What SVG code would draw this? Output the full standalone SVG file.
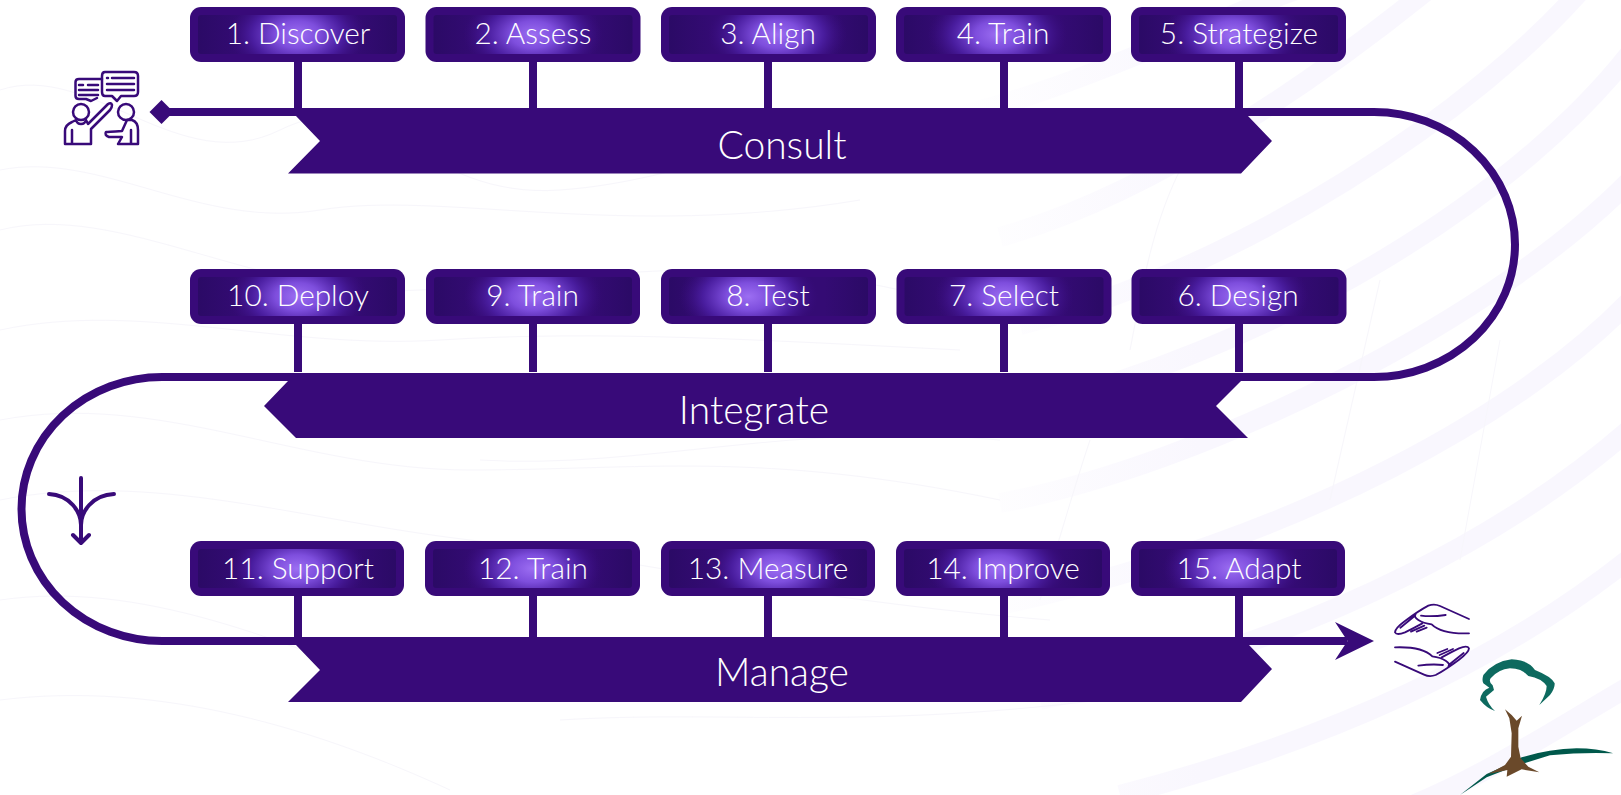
<svg xmlns="http://www.w3.org/2000/svg" width="1621" height="795" viewBox="0 0 1621 795">
<style>
text{font-family:"Lato","Open Sans","Liberation Sans",sans-serif;font-weight:300;fill:#fff;text-anchor:middle}
.l{font-size:29.800px}
.r{font-size:39px}
.o{fill:#380a79}
.b{fill:url(#base)}
.c{fill:none;stroke:#380a79;stroke-width:8}
.i{fill:none;stroke:#380a79;stroke-width:2.500;stroke-linecap:round;stroke-linejoin:round}
.h{fill:none;stroke:#380a79;stroke-width:5.500;stroke-linecap:round;stroke-linejoin:round}
.bg{fill:none;stroke:url(#band);stroke-width:20}
.bl{fill:none;stroke:#f7f6fb;stroke-width:1}
</style>
<defs>
<linearGradient id="band" gradientUnits="userSpaceOnUse" x1="950" y1="0" x2="1200" y2="0"><stop offset="0" stop-color="#f9f7fe" stop-opacity="0"/><stop offset="1" stop-color="#f9f7fe"/></linearGradient>
<linearGradient id="base"><stop offset="0" stop-color="#2b0a66"/><stop offset=".22" stop-color="#340b74"/><stop offset=".78" stop-color="#340b74"/><stop offset="1" stop-color="#2b0a66"/></linearGradient>
<radialGradient id="g0" cx=".5" cy=".5" r=".5" gradientTransform="translate(.5 .5) scale(.7 2.200) translate(-.5 -.5)"><stop offset="0" stop-color="#9c6ef2"/><stop offset=".32" stop-color="#8050e0" stop-opacity=".97"/><stop offset=".66" stop-color="#4d20a6" stop-opacity=".85"/><stop offset="1" stop-color="#3a0c80" stop-opacity="0"/></radialGradient>
<radialGradient id="gm" href="#g0" cx=".47" gradientTransform="translate(.47 .5) scale(.7 2.200) translate(-.47 -.5)"/>
<radialGradient id="gp" href="#g0" cx=".545" gradientTransform="translate(.545 .5) scale(.7 2.200) translate(-.545 -.5)"/>
<radialGradient id="gt" href="#g0" cx=".4" gradientTransform="translate(.4 .5) scale(.7 2.200) translate(-.4 -.5)"/>
<filter id="soft" x="-5%" y="-5%" width="110%" height="110%"><feGaussianBlur stdDeviation=".6"/></filter>
<g id="stem"><rect class="o" x="-4" y="0" width="8" height="50"/></g>
</defs>
<rect width="1621" height="795" fill="#fff"/>
<g id="background">
<path class="bg" d="M860 135C1060 110 1240 0 1330 -20"/>
<path class="bg" d="M1000 237C1158 193 1330 70 1440 -20"/>
<path class="bg" d="M1020 325C1240 270 1480 110 1590 -20"/>
<path class="bg" d="M1000 415C1280 350 1530 190 1640 40"/>
<path class="bg" d="M1000 503C1198 467 1500 320 1640 170"/>
<path class="bg" d="M1000 605C1300 540 1530 410 1640 290"/>
<path class="bg" d="M1040 700C1330 640 1530 520 1640 420"/>
<path class="bg" d="M1120 795C1370 730 1530 640 1640 550"/>
<path class="bg" d="M1400 810C1480 780 1570 720 1640 680"/>
<path class="bl" d="M0 90C90 60 180 180 280 130S420 200 560 190 760 120 900 170"/>
<path class="bl" d="M0 170C100 150 200 230 320 210S620 240 860 200"/>
<path class="bl" d="M0 230C120 200 260 300 420 290S720 250 900 290"/>
<path class="bl" d="M0 330C140 300 280 350 440 340S760 340 960 350"/>
<path class="bl" d="M0 420C160 390 300 470 470 470S760 450 1000 500"/>
<path class="bl" d="M0 500C150 470 300 520 470 540S800 600 1050 620"/>
<path class="bl" d="M0 600C140 580 280 640 430 700"/>
<path class="bl" d="M0 700C160 680 320 730 450 790"/>
<path class="bl" d="M560 720C720 710 860 730 1100 700"/>
<path class="bl" d="M480 460C640 470 800 420 1000 440"/>
<path class="bl" d="M1180 170C1150 230 1140 300 1130 350M1090 440C1070 500 1060 540 1040 600M1380 280L1330 500M1500 340L1460 560"/>
</g>
<g id="connectors">
<path class="c" d="M161 112H1374A141 132.500 0 0 1 1374 377H162A140.500 132 0 0 0 162 641H1347"/>
<path class="o" d="M149.500 112L161.500 100L173.500 112L161.500 124Z"/>
<path class="o" d="M1374 641L1335 622L1347.500 641L1335 660Z"/>
</g>
<g id="ribbon-consult"><path class="o" d="M296 108H1248V116L1272 141L1241 173.500H288L320 141L296 116Z"/><text class="r" x="782" y="158.500">Consult</text></g>
<g id="ribbon-integrate"><path class="o" d="M288 373H1241V381L1216 406L1248 438H296L264 406L288 381Z"/><text class="r" x="754" y="423.500">Integrate</text></g>
<g id="ribbon-manage"><path class="o" d="M296 637H1249V645L1272 669L1241 702H288L320 670L296 645Z"/><text class="r" x="782" y="686">Manage</text></g>

<g id="n1"><use href="#stem" x="298" y="60"/><rect class="o" x="190" y="7" width="215" height="55" rx="11"/><rect class="b" x="198" y="15" width="199" height="39" rx="3"/><rect fill="url(#g0)" x="198" y="15" width="199" height="39" rx="3"/><text class="l" x="298" y="44">1. Discover</text></g>
<g id="n2"><use href="#stem" x="533" y="60"/><rect class="o" x="425.500" y="7" width="215" height="55" rx="11"/><rect class="b" x="433.500" y="15" width="199" height="39" rx="3"/><rect fill="url(#g0)" x="433.500" y="15" width="199" height="39" rx="3"/><text class="l" x="533" y="44">2. Assess</text></g>
<g id="n3"><use href="#stem" x="768" y="60"/><rect class="o" x="661" y="7" width="215" height="55" rx="11"/><rect class="b" x="669" y="15" width="199" height="39" rx="3"/><rect fill="url(#gp)" x="669" y="15" width="199" height="39" rx="3"/><text class="l" x="768" y="44">3. Align</text></g>
<g id="n4"><use href="#stem" x="1004" y="60"/><rect class="o" x="896" y="7" width="215" height="55" rx="11"/><rect class="b" x="904" y="15" width="199" height="39" rx="3"/><rect fill="url(#gm)" x="904" y="15" width="199" height="39" rx="3"/><text class="l" x="1003" y="44">4. Train</text></g>
<g id="n5"><use href="#stem" x="1239" y="60"/><rect class="o" x="1131" y="7" width="215" height="55" rx="11"/><rect class="b" x="1139" y="15" width="199" height="39" rx="3"/><rect fill="url(#gm)" x="1139" y="15" width="199" height="39" rx="3"/><text class="l" x="1239" y="44">5. Strategize</text></g>

<g id="n6"><use href="#stem" x="1239" y="322"/><rect class="o" x="1131.500" y="269" width="215" height="55" rx="11"/><rect class="b" x="1139.500" y="277" width="199" height="39" rx="3"/><rect fill="url(#g0)" x="1139.500" y="277" width="199" height="39" rx="3"/><text class="l" x="1238" y="306">6. Design</text></g>
<g id="n7"><use href="#stem" x="1004" y="322"/><rect class="o" x="896.500" y="269" width="215" height="55" rx="11"/><rect class="b" x="904.500" y="277" width="199" height="39" rx="3"/><rect fill="url(#g0)" x="904.500" y="277" width="199" height="39" rx="3"/><text class="l" x="1004" y="306">7. Select</text></g>
<g id="n8"><use href="#stem" x="768" y="322"/><rect class="o" x="661" y="269" width="215" height="55" rx="11"/><rect class="b" x="669" y="277" width="199" height="39" rx="3"/><rect fill="url(#gt)" x="669" y="277" width="199" height="39" rx="3"/><text class="l" x="768" y="306">8. Test</text></g>
<g id="n9"><use href="#stem" x="533" y="322"/><rect class="o" x="426" y="269" width="214" height="55" rx="11"/><rect class="b" x="434" y="277" width="198" height="39" rx="3"/><rect fill="url(#g0)" x="434" y="277" width="198" height="39" rx="3"/><text class="l" x="532.500" y="306">9. Train</text></g>
<g id="n10"><use href="#stem" x="298" y="322"/><rect class="o" x="190" y="269" width="215" height="55" rx="11"/><rect class="b" x="198" y="277" width="199" height="39" rx="3"/><rect fill="url(#g0)" x="198" y="277" width="199" height="39" rx="3"/><text class="l" x="298" y="306">10. Deploy</text></g>

<g id="n11"><use href="#stem" x="298" y="594"/><rect class="o" x="190" y="541" width="214" height="55" rx="11"/><rect class="b" x="198" y="549" width="198" height="39" rx="3"/><rect fill="url(#g0)" x="198" y="549" width="198" height="39" rx="3"/><text class="l" x="298" y="579">11. Support</text></g>
<g id="n12"><use href="#stem" x="533" y="594"/><rect class="o" x="425" y="541" width="215" height="55" rx="11"/><rect class="b" x="433" y="549" width="199" height="39" rx="3"/><rect fill="url(#g0)" x="433" y="549" width="199" height="39" rx="3"/><text class="l" x="533" y="579">12. Train</text></g>
<g id="n13"><use href="#stem" x="768" y="594"/><rect class="o" x="661" y="541" width="214" height="55" rx="11"/><rect class="b" x="669" y="549" width="198" height="39" rx="3"/><rect fill="url(#gp)" x="669" y="549" width="198" height="39" rx="3"/><text class="l" x="768" y="579">13. Measure</text></g>
<g id="n14"><use href="#stem" x="1004" y="594"/><rect class="o" x="896" y="541" width="214" height="55" rx="11"/><rect class="b" x="904" y="549" width="198" height="39" rx="3"/><rect fill="url(#gm)" x="904" y="549" width="198" height="39" rx="3"/><text class="l" x="1003" y="579">14. Improve</text></g>
<g id="n15"><use href="#stem" x="1239" y="594"/><rect class="o" x="1131" y="541" width="214" height="55" rx="11"/><rect class="b" x="1139" y="549" width="198" height="39" rx="3"/><rect fill="url(#gm)" x="1139" y="549" width="198" height="39" rx="3"/><text class="l" x="1239" y="579">15. Adapt</text></g>

<g id="icon-consult">
<path class="i" d="M105 72H134Q138 72 138 76V92Q138 96 134 96H121L117 101L112 96H105Q102 96 102 92V76Q102 72 105 72Z"/>
<path class="i" d="M102 79H79Q75.500 79 75.500 82V96Q75.500 99 79 99H86L91 101L97 98"/>
<path class="i" d="M112 78H134M107 78H108M107 84H134M107 90H134M88 85H98M79 85H83M79 90H98M79 95H98"/>
<circle class="i" cx="81" cy="112" r="8"/><circle class="i" cx="126" cy="112" r="8"/>
<path class="i" d="M76 120Q77 124 81 124Q85 124 86 120L88 124L108 104Q111 102 112 105Q112 108 110 110L91 129V144H65V131Q65 125 72 122ZM72 144V130M127 120H132Q138 122 138 130V144H118L122 137H109Q104 135 106 132Q107 132 122 131L127 120ZM131 144V130"/>
</g>
<g id="icon-hands"><g transform="translate(1385 595) scale(.33333)">
<g id="hand"><path class="h" d="M252 72L165 33Q148 25 130 32Q100 48 60 78Q30 100 30 112Q35 122 60 112Q85 100 112 85M92 58Q85 65 100 75Q115 85 140 88Q170 118 252 115M108 62Q140 66 182 60M88 64L46 98M78 110L118 92M95 110L125 98"/></g>
<use href="#hand" transform="rotate(180 141 136)"/>
</g></g>
<g id="icon-split"><path fill="none" stroke="#380a79" stroke-width="4" stroke-linecap="round" stroke-linejoin="round" d="M81 478V542M49 494C70 495 81 512 81 525C81 512 92 495 114 494M73 535L81 543L89 535"/></g>
<g id="logo" filter="url(#soft)">
<path fill="#0f6a5f" transform="translate(1450 650) scale(.33333)" d="M268 165L300 135Q315 115 314 100Q305 80 255 60Q235 30 185 28Q130 35 100 75Q95 90 100 100L118 113Q95 120 90 150Q110 175 135 183Q115 165 108 140L132 120L128 106Q115 95 122 85Q145 58 180 55Q215 55 235 78Q275 85 290 108Q290 130 268 165Z"/>
<path fill="#00594c" transform="translate(1450 650) scale(.33333)" d="M30 435L110 372L170 345L215 322Q300 296 380 295Q440 295 490 310Q400 306 300 316L215 342L160 362L110 382Z"/>
<path fill="#6b4a2c" transform="translate(1450 650) scale(.33333)" d="M165 178L185 195L200 212L216 197L205 235L205 290L212 325L235 350L268 367L215 358L170 380L172 360L115 372L165 345L183 320L185 250L178 205Z"/>
</g>
</svg>
